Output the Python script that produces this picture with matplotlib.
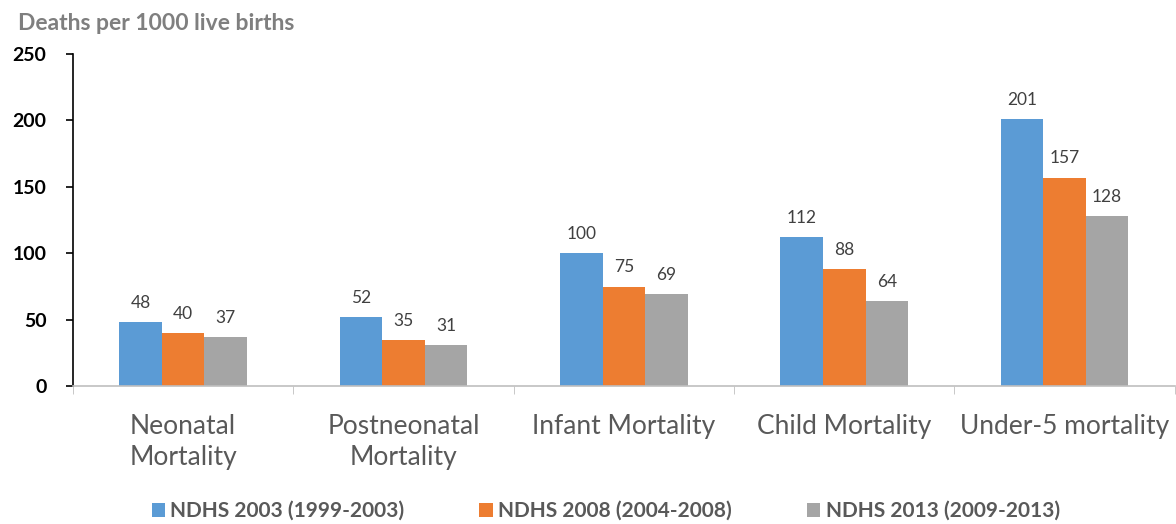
import numpy as np
import matplotlib.pyplot as plt
from matplotlib.patches import Patch

plt.rcParams["font.family"] = ["Lato", "DejaVu Sans"]

# data
categories = ["Neonatal\nMortality", "Postneonatal\nMortality", "Infant Mortality",
              "Child Mortality", "Under-5 mortality"]
ndhs_2003 = [48, 52, 100, 112, 201]
ndhs_2008 = [40, 35, 75, 88, 157]
ndhs_2013 = [37, 31, 69, 64, 128]
series_labels = ["NDHS 2003 (1999-2003)", "NDHS 2008 (2004-2008)", "NDHS 2013 (2009-2013)"]
colors = ["#5B9BD5", "#ED7D31", "#A5A5A5"]

fig = plt.figure(figsize=(11.76, 5.24), dpi=100)
ax = fig.add_axes([0.062, 0.263, 0.937, 0.634])

x = np.arange(len(categories))
w = 0.193
for i, (vals, col) in enumerate(zip([ndhs_2003, ndhs_2008, ndhs_2013], colors)):
    pos = x + (i - 1) * w
    ax.bar(pos, vals, width=w, color=col)
    for p, v in zip(pos, vals):
        ax.annotate(f"{v}", (p, v), xytext=(0, 8), textcoords="offset points",
                    ha="center", va="bottom", fontsize=12.5, color="#404040")

ax.set_xlim(-0.5, len(categories) - 0.5)
ax.set_ylim(0, 250)
ax.set_yticks([0, 50, 100, 150, 200, 250])
ax.tick_params(axis="y", labelsize=14, length=5, width=1.2, color="black", pad=14)
for lbl in ax.get_yticklabels():
    lbl.set_fontweight("bold")

# category labels + boundary ticks
ax.set_xticks(x)
ax.set_xticklabels(categories, fontsize=19, color="#595959", linespacing=1.3)
ax.tick_params(axis="x", length=0, pad=20)
ax.set_xticks(np.arange(len(categories) + 1) - 0.5, minor=True)
ax.tick_params(axis="x", which="minor", length=6, color="#BFBFBF")

for s in ["top", "right"]:
    ax.spines[s].set_visible(False)
ax.spines["left"].set_color("black")
ax.spines["left"].set_linewidth(1.2)
ax.spines["bottom"].set_color("#BFBFBF")
ax.spines["bottom"].set_linewidth(1.2)

fig.text(0.015, 0.956, "Deaths per 1000 live births", fontsize=16.5, fontweight="bold",
         color="#7F7F7F", va="center", ha="left")

handles = [Patch(facecolor=c, label=l) for c, l in zip(colors, series_labels)]
fig.legend(handles=handles, loc="center", bbox_to_anchor=(0.515, 0.025), ncol=3,
           frameon=False, prop={"size": 15, "weight": "bold"}, handlelength=0.65,
           handleheight=0.65, handletextpad=0.25, columnspacing=3.6, labelcolor="#595959")

fig.savefig("out.png", dpi=100, facecolor="white")
